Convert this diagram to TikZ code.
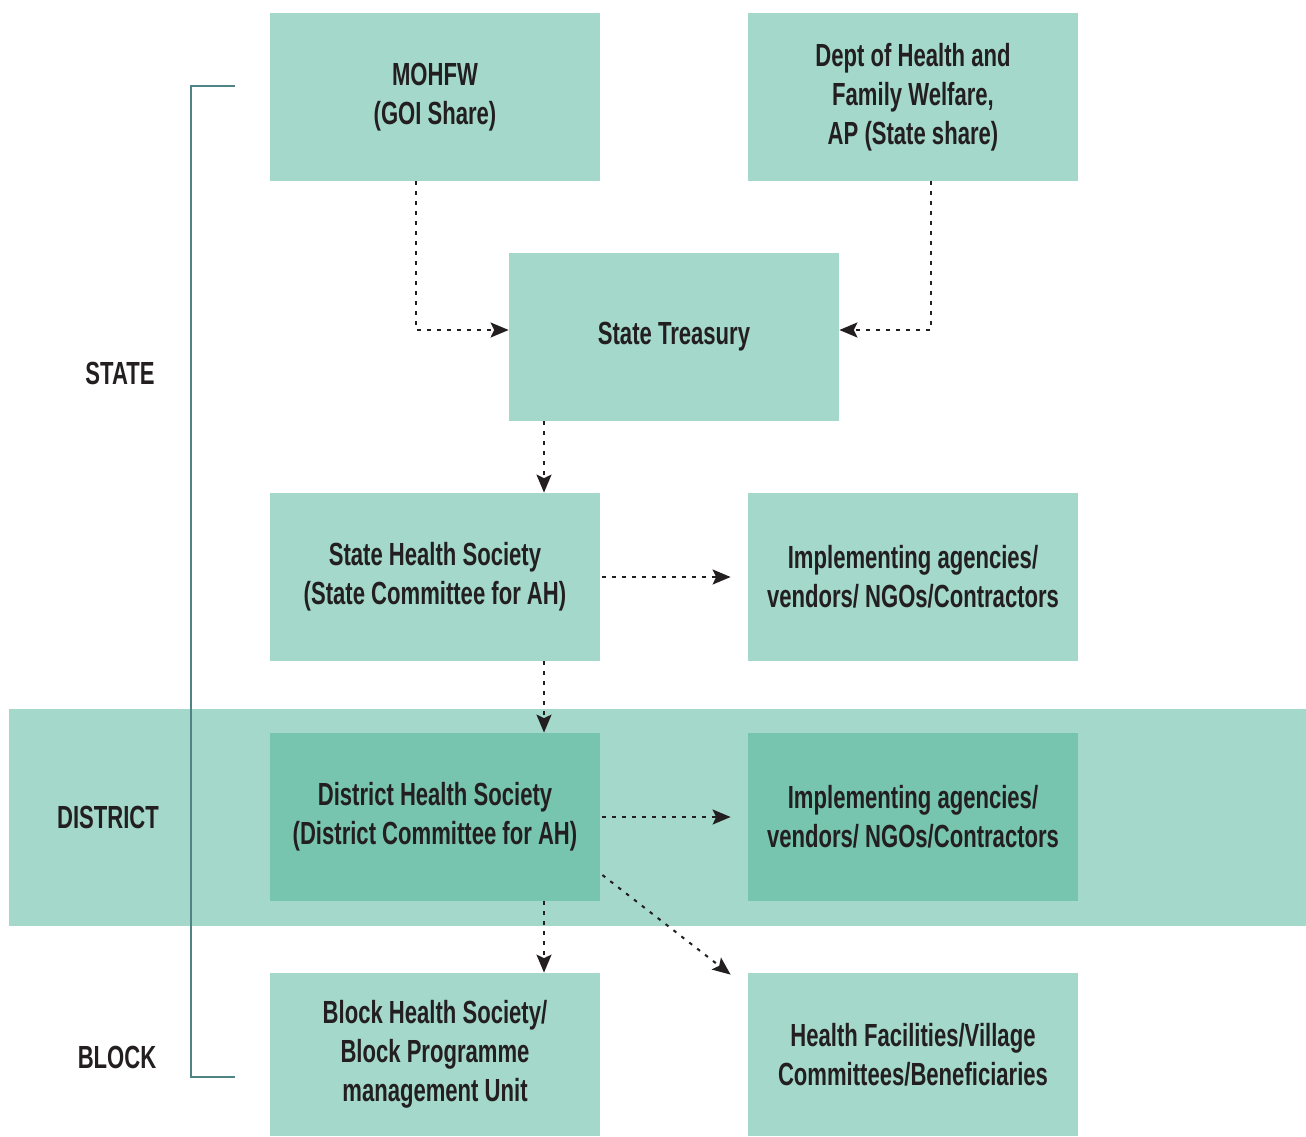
\documentclass[tikz,border=0pt]{standalone}
\usepackage{fontspec}
\setmainfont{Liberation Sans}[FakeStretch=0.69]
\usetikzlibrary{arrows.meta}
\definecolor{boxlight}{HTML}{A3D8CA}
\definecolor{boxdark}{HTML}{78C5AF}
\definecolor{txt}{HTML}{231F20}
\definecolor{brk}{HTML}{4F8384}
\begin{document}
\begin{tikzpicture}[x=0.5pt,y=-0.5pt,
  box/.style={fill=boxlight, draw=none, inner sep=0pt, minimum width=165pt, minimum height=84pt,
    align=center, text=txt, font=\bfseries\fontsize{16}{19.5}\selectfont},
  darkbox/.style={box, fill=boxdark},
  lvl/.style={text=txt, font=\bfseries\fontsize{16}{19.5}\selectfont, inner sep=0pt},
  flow/.style={draw=txt, line width=1pt, dash pattern=on 1.8pt off 3.2pt,
    -{Stealth[length=9pt,width=7.5pt,inset=1.8pt]}}]
\useasboundingbox (0,0) rectangle (1306,1136);
% district band
\fill[boxlight] (9,709) rectangle (1306,926);
% bracket
\draw[brk, line width=1pt] (235,86) -- (191,86) -- (191,1077) -- (235,1077);
% level labels
\node[lvl] (lstate) at (120,373) {STATE};
\node[lvl] (ldistrict) at (108,817) {DISTRICT};
\node[lvl] (lblock) at (117,1057) {BLOCK};
% boxes
\node[box] (mohfw) at (435,97) {MOHFW\\(GOI Share)};
\node[box] (dept) at (913,97) {Dept of Health and\\Family Welfare,\\AP (State share)};
\node[box] (treasury) at (674,337) {State Treasury};
\node[box] (shs) at (435,577) {State Health Society\\(State Committee for AH)};
\node[box] (impl1) at (913,577) {Implementing agencies/\\vendors/ NGOs/Contractors};
\node[darkbox] (dhs) at (435,817) {District Health Society\\(District Committee for AH)};
\node[darkbox] (impl2) at (913,817) {Implementing agencies/\\vendors/ NGOs/Contractors};
\node[box, minimum height=81.5pt] (bhs) at (435,1054.5) {Block Health Society/\\Block Programme\\management Unit};
\node[box, minimum height=81.5pt] (hf) at (913,1054.5) {Health Facilities/Village\\Committees/Beneficiaries};
% connectors
\draw[flow] ([xshift=-9.5pt]mohfw.south) |- ([yshift=3.5pt]treasury.west);
\draw[flow] ([xshift=9pt]dept.south) |- ([yshift=3.5pt]treasury.east);
\draw[flow] ([xshift=-65pt]treasury.south) -- ([xshift=54.5pt]shs.north);
\draw[flow] ([xshift=1pt]shs.east) -- ([xshift=-8.5pt]impl1.west);
\draw[flow] ([xshift=54.5pt]shs.south) -- ([xshift=54.5pt]dhs.north);
\draw[flow] ([xshift=1pt]dhs.east) -- ([xshift=-8.5pt]impl2.west);
\draw[flow] ([xshift=1pt,yshift=-29pt]dhs.east) -- ([xshift=-8.5pt,yshift=-1pt]hf.north west);
\draw[flow] ([xshift=54.5pt]dhs.south) -- ([xshift=54.5pt]bhs.north);
\end{tikzpicture}
\end{document}
